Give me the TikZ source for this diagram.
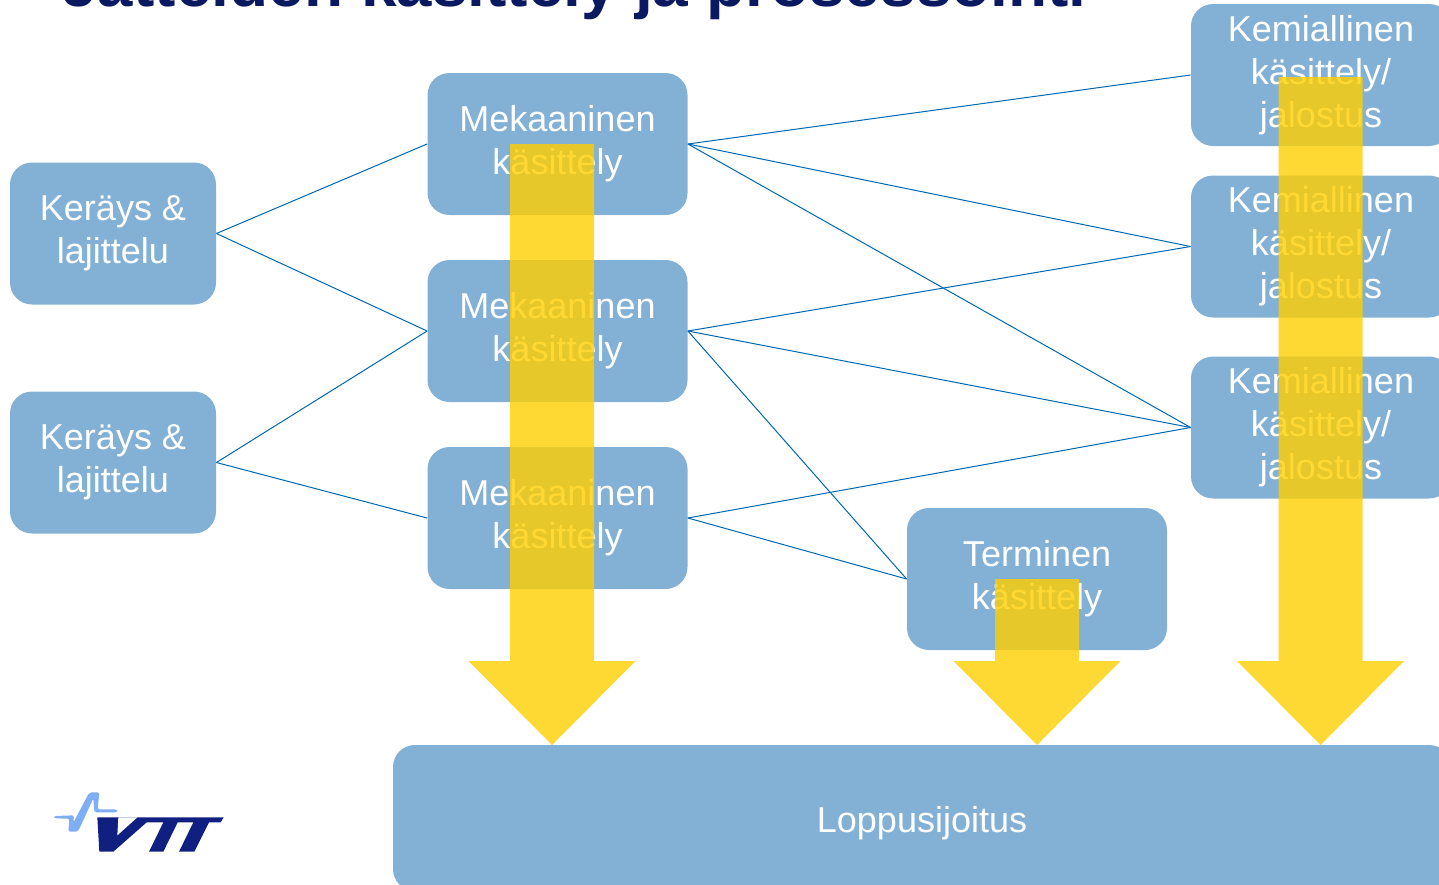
\documentclass[tikz,border=0pt]{standalone}
\usepackage{fontspec}
\setmainfont{Liberation Sans}
\definecolor{boxblue}{HTML}{83B0D5}
\definecolor{linkblue}{HTML}{0068B0}
\definecolor{arrowyellow}{HTML}{FFCF00}
\definecolor{titlenavy}{HTML}{0B1A60}
\definecolor{logonavy}{HTML}{0F2080}
\definecolor{logosky}{HTML}{7FAEF5}
\tikzset{
  stagebox/.style={fill=boxblue,text=white,rounded corners=11pt,inner sep=0pt,align=center,
    minimum height=71pt,font=\fontsize{18}{21.5}\selectfont,
    execute at begin node=\rule{0pt}{18pt}},
  shortbox/.style={stagebox,minimum width=103pt},
  widebox/.style={stagebox,minimum width=130pt},
  link/.style={draw=linkblue,line width=0.5pt},
  flowarrow/.style={fill=arrowyellow,fill opacity=0.8},
}
\begin{document}
\begin{tikzpicture}[x=0.5pt,y=-0.5pt]
  \useasboundingbox (0,0) rectangle (1439,884);
  \node[anchor=base west,text=titlenavy,font=\fontsize{32}{38}\selectfont\bfseries,inner sep=0pt] (title) at (62,6.5) {Jätteiden käsittely ja prosessointi};
  \node[shortbox] (keraysA) at (113,233.5) {Keräys \&\\lajittelu};
  \node[shortbox] (keraysB) at (113,462.5) {Keräys \&\\lajittelu};
  \node[widebox] (mekA) at (557.5,144) {Mekaaninen\\käsittely};
  \node[widebox] (mekB) at (557.5,331) {Mekaaninen\\käsittely};
  \node[widebox] (mekC) at (557.5,518) {Mekaaninen\\käsittely};
  \node[widebox] (kemA) at (1321,75) {Kemiallinen\\käsittely/\\jalostus};
  \node[widebox] (kemB) at (1321,246.5) {Kemiallinen\\käsittely/\\jalostus};
  \node[widebox] (kemC) at (1321,427.5) {Kemiallinen\\käsittely/\\jalostus};
  \node[widebox] (term) at (1037,579) {Terminen\\käsittely};
  \node[stagebox,minimum width=529pt,minimum height=73pt,execute at begin node=\rule{0pt}{16pt}] (loppu) at (922,818) {Loppusijoitus};
  % links
  \draw[link] (keraysA.east) -- (mekA.west);
  \draw[link] (keraysA.east) -- (mekB.west);
  \draw[link] (keraysB.east) -- (mekB.west);
  \draw[link] (keraysB.east) -- (mekC.west);
  \draw[link] (mekA.east) -- (kemA.west);
  \draw[link] (mekA.east) -- (kemB.west);
  \draw[link] (mekA.east) -- (kemC.west);
  \draw[link] (mekB.east) -- (kemB.west);
  \draw[link] (mekB.east) -- (kemC.west);
  \draw[link] (mekB.east) -- (term.west);
  \draw[link] (mekC.east) -- (kemC.west);
  \draw[link] (mekC.east) -- (term.west);
  % yellow arrows
  \foreach \cx/\ytop in {552/144,1037/579,1320.5/77}{
    \fill[flowarrow] (\cx-42,\ytop) -- (\cx+42,\ytop) -- (\cx+42,661) -- (\cx+83.5,661)
      -- (\cx,745) -- (\cx-83.5,661) -- (\cx-42,661) -- cycle;
  }
  % logo
  \begin{scope}[x=0.16667pt,y=-0.16667pt,yshift=-380pt]
    \fill[logosky,rounded corners=1pt] (163,168) -- (222,166) -- (220,188) -- (268,97) -- (298,97)
      -- (293,148) -- (351,148) -- (351,157) -- (283,157) -- (280,115) -- (234,215)
      -- (205,215) -- (208,176) -- (163,175) -- cycle;
    \fill[logonavy] (292,172) -- (671,172) -- (662,187) -- (627,187) -- (583,275) -- (537,275)
      -- (580,187) -- (533,187) -- (490,275) -- (447,275) -- (490,187) -- (440,187)
      -- (340,275) -- (298,275) -- cycle;
    \fill[white] (355,172) -- (352,226) -- (412,172) -- cycle;
  \end{scope}
\end{tikzpicture}
\end{document}
